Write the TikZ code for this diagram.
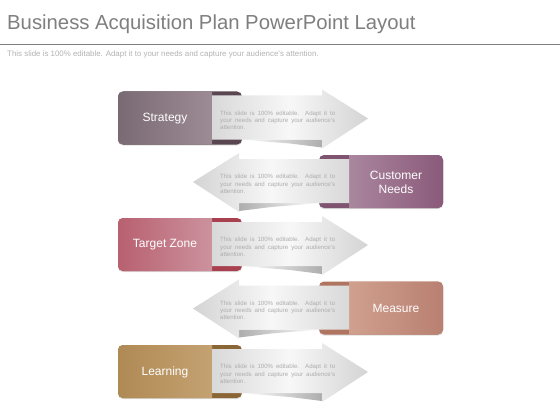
\documentclass[tikz,border=0pt]{standalone}
\usepackage{fontspec}
\setmainfont{Liberation Sans}
\usetikzlibrary{shadows}
\definecolor{titlegray}{HTML}{7F7F7F}
\definecolor{subgray}{HTML}{B3B3B3}
\definecolor{bodygray}{HTML}{ADADAD}
\definecolor{stTab}{HTML}{5A4650}\definecolor{stDark}{HTML}{7A6A74}\definecolor{stLight}{HTML}{A8969F}
\definecolor{cnTab}{HTML}{7E5470}\definecolor{cnDark}{HTML}{8A5A7A}\definecolor{cnLight}{HTML}{B494AA}
\definecolor{tzTab}{HTML}{A84050}\definecolor{tzDark}{HTML}{B86070}\definecolor{tzLight}{HTML}{D2A2AC}
\definecolor{meTab}{HTML}{B07560}\definecolor{meDark}{HTML}{B88070}\definecolor{meLight}{HTML}{D8AA98}
\definecolor{leTab}{HTML}{8A6535}\definecolor{leDark}{HTML}{B08A55}\definecolor{leLight}{HTML}{CAA97A}
\tikzset{
  titletext/.style={anchor=base west, inner sep=0pt, text=titlegray, font=\fontsize{20.3}{24}\selectfont},
  subtext/.style={anchor=base west, inner sep=0pt, text=subgray, font=\fontsize{7.9}{9}\selectfont},
  boxlabel/.style={inner sep=0pt, text=white, align=center, font=\fontsize{12}{14}\selectfont},
  bodytext/.style={anchor=north west, inner sep=0pt, text=bodygray, align=left, font=\fontsize{6.1}{7.4}\selectfont},
  boxshadow/.style={drop shadow={opacity=0.25, shadow xshift=0pt, shadow yshift=-1.2pt}},
}
\newcommand\bodylines{\makebox[115pt][s]{This slide is 100\% editable. Adapt it to}\\\makebox[115pt][s]{your needs and capture your audience's}\\attention.}
% #1 centre y, #2 mirror (1 or -1), #3 prefix of colours, #4 label, #5 name
\newcommand\arrowrow[5]{%
  \ifnum#2=1
    \def\pL{#3Dark}\def\pR{#3Light}\def\wL{white}\def\wR{black!32}\def\aL{black!15}\def\aR{black!17}%
  \else
    \def\pL{#3Light}\def\pR{#3Dark}\def\wL{black!32}\def\wR{white}\def\aL{black!17}\def\aR{black!15}%
  \fi
  \begin{scope}[shift={(280.5,#1)}, xscale=#2, shift={(-280.5,0)}]
    \fill[#3Tab, rounded corners=5pt, boxshadow] (118,-27) rectangle (242,26);
    \begin{scope}
      \clip (110,-30) rectangle (212,30);
      \shade[left color=\pL, right color=\pR, rounded corners=5pt] (118,-27) rectangle (242,26);
    \end{scope}
    \shade[left color=\wL, right color=\wR] (240,21) -- (322,21) -- (322,29) -- (290,25) -- cycle;
    \shade[left color=\aL, right color=\aR, middle color=black!3] (212,-23) -- (322,-23) -- (322,-29) -- (368,0) -- (322,30) -- (322,21) -- (212,21) -- cycle;
    \node[boxlabel] (#5) at (165,0) {#4};
  \end{scope}
  \node[bodytext] (#5text) at (220,#1-8) {\bodylines};
}
\begin{document}
\begin{tikzpicture}[x=1pt, y=-1pt]
  \useasboundingbox (0,0) rectangle (560,420);
  \fill[white] (0,0) rectangle (560,420);
  \node[titletext] (title) at (7,29.5) {Business Acquisition Plan PowerPoint Layout};
  \draw[titlegray, line width=1.5pt] (0,44.5) coordinate (ruleL) -- (560,44.5) coordinate (ruleR);
  \node[subtext] (subtitle) at (7,56.5) {This slide is 100\% editable. Adapt it to your needs and capture your audience's attention.};
  \arrowrow{118.5}{1}{st}{Strategy}{strategy}
  \arrowrow{182}{-1}{cn}{Customer\\Needs}{customer}
  \arrowrow{245}{1}{tz}{Target Zone}{target}
  \arrowrow{308.5}{-1}{me}{Measure}{measure}
  \arrowrow{372}{1}{le}{Learning}{learning}
\end{tikzpicture}
\end{document}
